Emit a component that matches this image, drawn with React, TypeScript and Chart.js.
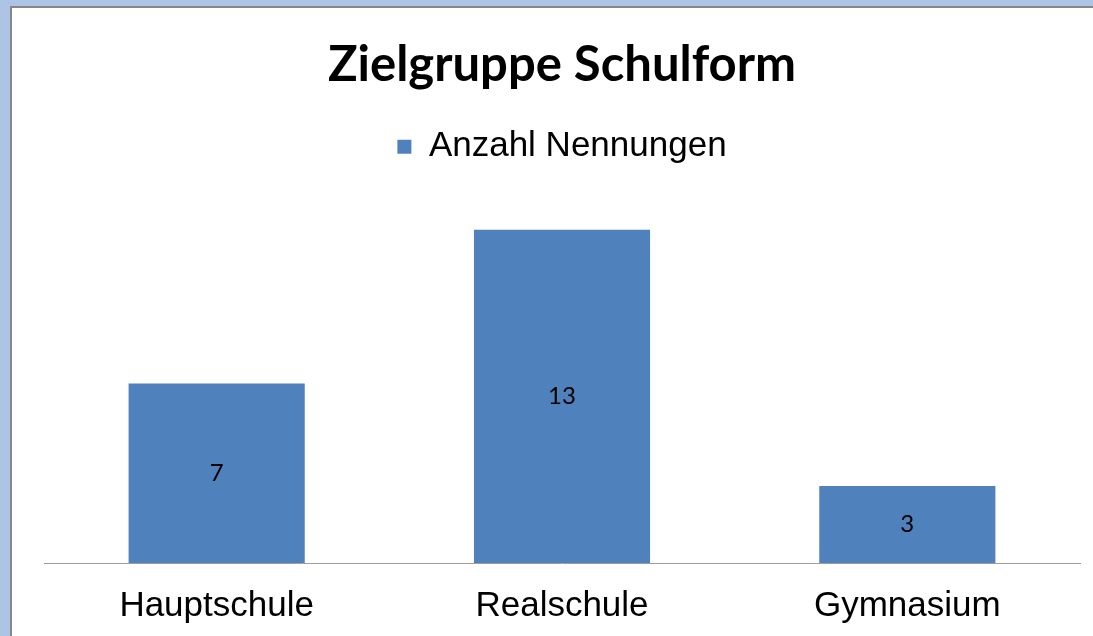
import React, { useEffect, useRef } from "react";
import { Chart, registerables } from "chart.js";

Chart.register(...registerables);

const categories = ["Hauptschule", "Realschule", "Gymnasium"];
const seriesName = "Anzahl Nennungen";
const values = [7, 13, 3];
const chartTitle = "Zielgruppe Schulform";

const valueLabels = {
  id: "valueLabels",
  afterDatasetsDraw(chart: any) {
    const ctx = chart.ctx;
    const meta = chart.getDatasetMeta(0);
    ctx.save();
    ctx.font = "24px Lato, 'Open Sans', sans-serif";
    ctx.fillStyle = "#000000";
    ctx.textAlign = "center";
    ctx.textBaseline = "middle";
    meta.data.forEach((bar: any, i: number) => {
      const y = (bar.y + bar.base) / 2;
      ctx.fillText(String(chart.data.datasets[0].data[i]), bar.x, y);
    });
    ctx.restore();
  },
};

export default function App() {
  const ref = useRef<HTMLCanvasElement | null>(null);
  useEffect(() => {
    if (!ref.current) return;
    const chart = new Chart(ref.current, {
      type: "bar",
      data: {
        labels: categories,
        datasets: [
          {
            label: seriesName,
            data: values,
            backgroundColor: "#4F81BD",
            borderWidth: 0,
            categoryPercentage: 1,
            barPercentage: 0.51,
          },
        ],
      },
      options: {
        animation: false,
        responsive: false,
        layout: { padding: { left: 32, right: 13, top: 33, bottom: -13 } },
        plugins: {
          title: {
            display: true,
            text: chartTitle,
            color: "#000000",
            font: { family: "Lato, 'Open Sans', sans-serif", size: 49, weight: "bold", lineHeight: 0.8 },
            padding: { top: 5, bottom: 0 },
          },
          legend: {
            display: true,
            labels: {
              color: "#000000",
              font: { family: "'Liberation Sans', Arial, sans-serif", size: 35 },
              usePointStyle: true,
              pointStyle: "rect",
              boxWidth: 14,
              boxHeight: 14,
              padding: 44,
            },
          },
          tooltip: { enabled: false },
        },
        scales: {
          x: {
            grid: { display: false, drawTicks: false },
            border: { display: true, color: "#9E9E9E", width: 1 },
            ticks: {
              color: "#000000",
              font: { family: "'Liberation Sans', Arial, sans-serif", size: 35 },
              padding: 22,
            },
          },
          xTop: {
            type: "category",
            position: "top",
            display: true,
            grid: { display: false, drawTicks: false },
            border: { display: false },
            ticks: { display: false },
            afterFit: (scale: any) => {
              scale.height = 30;
            },
          },
          y: {
            display: false,
            min: 0,
            max: 14,
          },
        },
      },
      plugins: [valueLabels],
    });
    return () => chart.destroy();
  }, []);

  return (
    <div style={{ position: "fixed", left: 0, top: 0, width: 1093, height: 636, background: "#AEC4E5", overflow: "hidden" }}>
      <div
        style={{
          position: "absolute",
          left: 10,
          top: 6,
          width: 1083,
          height: 630,
          background: "#FFFFFF",
          borderTop: "2px solid #878787",
          borderLeft: "2px solid #878787",
          boxSizing: "border-box",
        }}
      >
        <canvas ref={ref} width={1081} height={628} style={{ display: "block" }} />
      </div>
    </div>
  );
}
